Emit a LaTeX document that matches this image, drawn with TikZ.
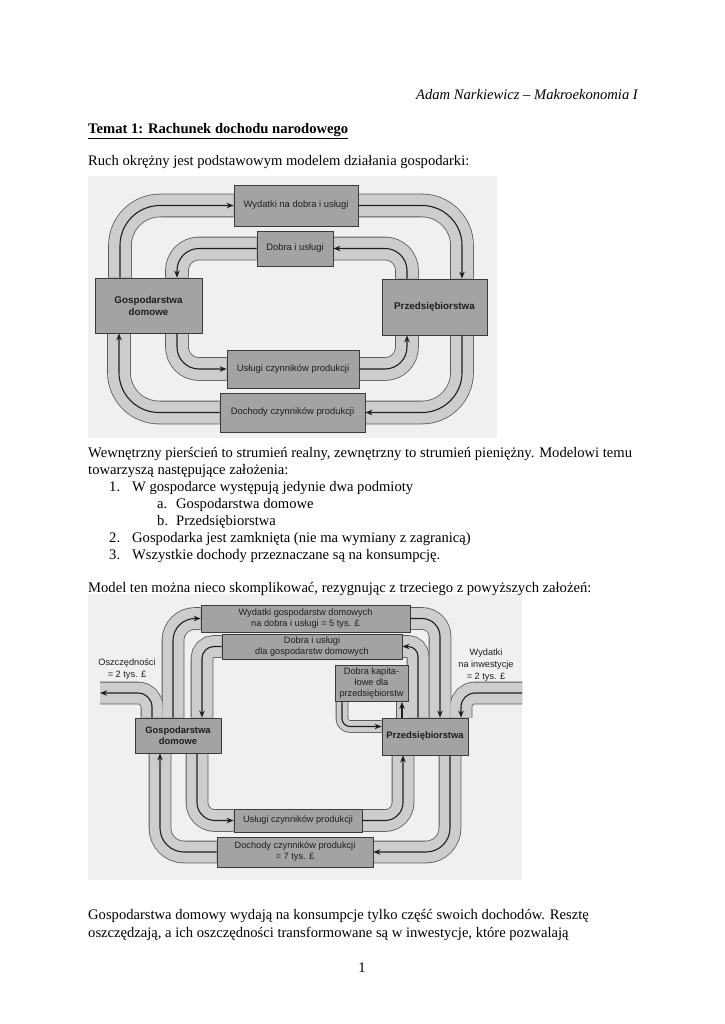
\documentclass[tikz,border=0pt]{standalone}
\usepackage{fontspec}
\setmainfont{Liberation Serif}
\newfontfamily\diag{Liberation Sans}
\usetikzlibrary{arrows.meta}
\pgfdeclarelayer{scanlayer}
\pgfdeclarelayer{bandlayer}
\pgfsetlayers{scanlayer,bandlayer,main}
\definecolor{bandfill}{HTML}{CDCDCD}
\definecolor{bandedge}{HTML}{5A5A5A}
\definecolor{boxfill}{HTML}{A3A3A3}
\definecolor{boxedge}{HTML}{3A3A3A}
\definecolor{scanbg}{HTML}{F0F0F0}
\definecolor{ink}{HTML}{1E1E1E}
\begin{document}
\begin{tikzpicture}[x=1pt,y=-1pt,
  txt/.style={inner sep=0pt, anchor=base west, font=\fontsize{14.6}{17}\selectfont},
  sz/.style 2 args={minimum width=#1, minimum height=#2},
  box/.style={draw=boxedge, fill=boxfill, line width=0.8pt, inner sep=0pt, align=center, text=ink},
  boxa/.style={box, font=\diag\fontsize{9.4}{11.5}\selectfont},
  boxab/.style={box, font=\diag\bfseries\fontsize{9.8}{12}\selectfont},
  boxb/.style={box, font=\diag\fontsize{9.2}{11}\selectfont},
  boxbb/.style={box, font=\diag\bfseries\fontsize{9.4}{11.5}\selectfont},
  lbl/.style={inner sep=0pt, align=center, text=ink, font=\diag\fontsize{9.2}{12}\selectfont},
  bando/.style={draw=bandedge, line width=23.6pt},
  bandi/.style={draw=bandfill, line width=22pt},
  bandoo/.style={draw=bandedge, line width=22.6pt},
  bandii/.style={draw=bandfill, line width=21pt},
  bandso/.style={draw=bandedge, line width=12.6pt},
  bandsi/.style={draw=bandfill, line width=11pt},
  flow/.style={draw=ink, line width=1.1pt, -{Stealth[length=7pt,width=5.5pt]}}
]
\useasboundingbox (0,0) rectangle (724,1024);
\begin{pgfonlayer}{scanlayer}
  \fill[white] (0,0) rectangle (724,1024);
  \fill[scanbg] (88,176) rectangle (497,438);
  \fill[scanbg] (88,594) rectangle (522,880);
\end{pgfonlayer}

% ---------------- page text ----------------
\node[txt, anchor=base east, font=\itshape\fontsize{14.6}{17}\selectfont] (hdr) at (638,100) {Adam Narkiewicz – Makroekonomia I};
\node[txt, font=\bfseries\fontsize{14.6}{17}\selectfont] (title) at (88,134) {\underline{Temat 1: Rachunek dochodu narodowego}};
\node[txt] (p1l) at (88,166) {Ruch okrężny jest podstawowym modelem działania gospodarki:};
\node[txt] (p2l) at (88,457) {Wewnętrzny pierścień to strumień realny, zewnętrzny to strumień pieniężny. Modelowi temu};
\node[txt] (p3l) at (88,474) {towarzyszą następujące założenia:};
\node[txt] (n1) at (109,491) {1.};
\node[txt] (t1) at (132,491) {W gospodarce występują jedynie dwa podmioty};
\node[txt] (na) at (157,508) {a.};
\node[txt] (ta) at (176,508) {Gospodarstwa domowe};
\node[txt] (nb) at (157,525) {b.};
\node[txt] (tb) at (176,525) {Przedsiębiorstwa};
\node[txt] (n2) at (109,542) {2.};
\node[txt] (t2) at (132,542) {Gospodarka jest zamknięta (nie ma wymiany z zagranicą)};
\node[txt] (n3) at (109,559) {3.};
\node[txt] (t3) at (132,559) {Wszystkie dochody przeznaczane są na konsumpcję.};
\node[txt] (p4l) at (88,592) {Model ten można nieco skomplikować, rezygnując z trzeciego z powyższych założeń:};
\node[txt] (p5l) at (88,919) {Gospodarstwa domowy wydają na konsumpcje tylko część swoich dochodów. Resztę};
\node[txt] (p6l) at (88,937) {oszczędzają, a ich oszczędności transformowane są w inwestycje, które pozwalają};
\node[txt, anchor=base] (pg) at (362,972) {1};

% ---------------- diagram 1 ----------------
\node[boxa, sz={124pt}{41pt}] (wyd1) at (296,205.5) {Wydatki na dobra i usługi};
\node[boxa, sz={76pt}{35pt}] (dob1) at (295,248.5) {Dobra i usługi};
\node[boxab, sz={107pt}{55pt}] (gd1) at (148.5,305.5) {Gospodarstwa\\domowe};
\node[boxab, sz={105pt}{56pt}] (p1) at (434.5,307) {Przedsiębiorstwa};
\node[boxa, sz={132pt}{38pt}] (usl1) at (293,369) {Usługi czynników produkcji};
\node[boxa, sz={145pt}{39pt}] (doch1) at (292.5,412.5) {Dochody czynników produkcji};

\coordinate (x120) at (120,0);
\coordinate (x119) at (119,0);
\coordinate (x177) at (177,0);
\coordinate (x407) at (407,0);
\coordinate (x462) at (462,0);

\def\bA{[rounded corners=40pt] (x120 |- gd1.north) |- (wyd1.west)}
\def\bB{[rounded corners=40pt] (wyd1.east) -| (x462 |- p1.north)}
\def\bC{[rounded corners=22pt] (x407 |- p1.north) |- (dob1.east)}
\def\bD{[rounded corners=22pt] (dob1.west) -| (x177 |- gd1.north)}
\def\bE{[rounded corners=22pt] (x177 |- gd1.south) |- (usl1.west)}
\def\bF{[rounded corners=22pt] (usl1.east) -| (x407 |- p1.south)}
\def\bG{[rounded corners=40pt] (x462 |- p1.south) |- (doch1.east)}
\def\bH{[rounded corners=40pt] (doch1.west) -| (x119 |- gd1.south)}

% ---------------- diagram 2 ----------------
\node[boxb, sz={209pt}{27pt}] (wyd2) at (305.5,618.5) {Wydatki gospodarstw domowych\\na dobra i usługi = 5 tys. £};
\node[boxb, sz={180pt}{25pt}] (dob2) at (312,646.5) {Dobra i usługi\\dla gospodarstw domowych};
\node[boxb, sz={73pt}{36pt}] (dk2) at (371.5,683.5) {Dobra kapita-\\łowe dla\\przedsiębiorstw};
\node[boxbb, sz={86pt}{35pt}] (gd2) at (178,735.5) {Gospodarstwa\\domowe};
\node[boxbb, sz={86pt}{37pt}] (p2) at (425,736.5) {Przedsiębiorstwa};
\node[boxb, sz={128pt}{23pt}] (usl2) at (298,820.5) {Usługi czynników produkcji};
\node[boxb, sz={156pt}{30pt}] (doch2) at (295,852) {Dochody czynników produkcji\\= 7 tys. £};
\node[lbl] (osz) at (127,669) {Oszczędności\\= 2 tys. £};
\node[lbl] (inw) at (486,665) {Wydatki\\na inwestycje\\= 2 tys. £};

\coordinate (sav) at (100,693);
\coordinate (inv) at (522,693);
\coordinate (x152) at (152,0);
\coordinate (x160) at (160,0);
\coordinate (x173) at (173,0);
\coordinate (x197) at (197,0);
\coordinate (x202) at (202,0);
\coordinate (x342) at (342,0);
\coordinate (x402) at (402,0);
\coordinate (x403) at (403,0);
\coordinate (x418) at (418,0);
\coordinate (x440) at (440,0);
\coordinate (x450) at (450,0);
\coordinate (x461) at (461,0);

\def\cA{[rounded corners=22pt] (x173 |- gd2.north) |- (wyd2.west)}
\def\cB{[rounded corners=14pt] (x152 |- gd2.north) |- (sav)}
\def\cC{[rounded corners=12pt] (dob2.west) -| (x202 |- gd2.north)}
\def\cD{[rounded corners=24pt] (doch2.west) -| (x160 |- gd2.south)}
\def\cE{[rounded corners=18pt] (x197 |- gd2.south) |- (usl2.west)}
\def\cF{[rounded corners=18pt] (wyd2.east) -| (x440 |- p2.north)}
\def\cG{[rounded corners=14pt] (inv) -| (x461 |- p2.north)}
\def\cH{[rounded corners=10pt] (x418 |- p2.north) |- (dob2.east)}
\def\cI{(x402 |- p2.north) -- (x402 |- dk2.south)}
\def\cJ{[rounded corners=8pt] (x342 |- dk2.south) |- ([yshift=10pt]p2.west)}
\def\cK{[rounded corners=18pt] (usl2.east) -| (x403 |- p2.south)}
\def\cL{[rounded corners=24pt] (x450 |- p2.south) |- (doch2.east)}

\begin{pgfonlayer}{bandlayer}
  \foreach \q in {\bA,\bB,\bC,\bD,\bE,\bF,\bG,\bH}{\draw[bando] \q;}
  \foreach \q in {\cA,\cB,\cC,\cD,\cE,\cF,\cG,\cH,\cK,\cL}{\draw[bandoo] \q;}
  \foreach \q in {\cI,\cJ}{\draw[bandso] \q;}
  \foreach \q in {\bA,\bB,\bC,\bD,\bE,\bF,\bG,\bH}{\draw[bandi] \q;}
  \foreach \q in {\cA,\cB,\cC,\cD,\cE,\cF,\cG,\cH,\cK,\cL}{\draw[bandii] \q;}
  \foreach \q in {\cI,\cJ}{\draw[bandsi] \q;}
\end{pgfonlayer}

\foreach \q in {\bA,\bB,\bC,\bD,\bE,\bF,\bG,\bH}{\draw[flow] \q;}
\foreach \q in {\cA,\cB,\cC,\cD,\cE,\cF,\cG,\cH,\cI,\cJ,\cK,\cL}{\draw[flow] \q;}
\end{tikzpicture}
\end{document}
